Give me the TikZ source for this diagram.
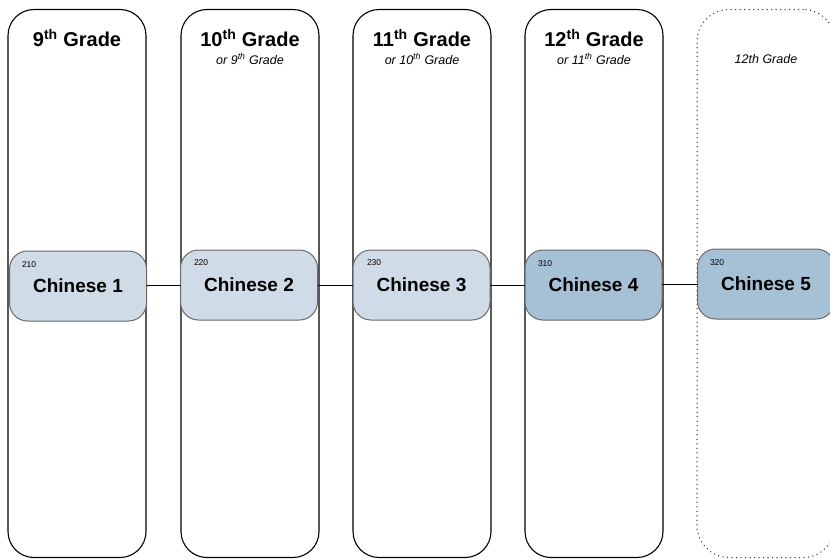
\documentclass[tikz,border=0pt]{standalone}
\usepackage{fontspec}
\setmainfont{Liberation Sans}
\usepackage{tikz}

\definecolor{lightcourse}{HTML}{CFDCE7}
\definecolor{darkcourse}{HTML}{A6C1D5}
\definecolor{courseline}{HTML}{6A6A6A}

\begin{document}
\begin{tikzpicture}[x=1pt, y=-1pt,
  every node/.style={outer sep=0pt, inner sep=0pt},
  gradecol/.style={draw=black, line width=1.1pt, rounded corners=26pt, minimum width=138pt, minimum height=548pt},
  optcol/.style={gradecol, draw=black!75, line width=1.5pt, line cap=round, dash pattern=on 0pt off 4.5pt, rounded corners=32pt},
  gradetitle/.style={font=\fontsize{20}{23}\selectfont\bfseries},
  gradenote/.style={font=\fontsize{12.5}{14}\selectfont\itshape},
  course/.style={draw=courseline, line width=1pt, rounded corners=18pt, minimum width=137pt, minimum height=70pt, font=\fontsize{19}{22}\selectfont\bfseries},
  coursenum/.style={font=\fontsize{8.5}{10}\selectfont, anchor=west}]
\useasboundingbox (0,0) rectangle (830,558);
\clip (0,0) rectangle (830,558);

\node[gradecol] (col1) at (77,283.5) {};
\node[gradecol] (col2) at (250,283.5) {};
\node[gradecol] (col3) at (422,283.5) {};
\node[gradecol] (col4) at (594,283.5) {};
\node[optcol] (col5) at (766,283.5) {};

\node[gradetitle] (title1) at (77,38) {9\textsuperscript{th} Grade};
\node[gradetitle] (title2) at (250,38) {10\textsuperscript{th} Grade};
\node[gradetitle] (title3) at (422,38) {11\textsuperscript{th} Grade};
\node[gradetitle] (title4) at (594,38) {12\textsuperscript{th} Grade};

\node[gradenote] (note2) at (250,59) {or 9\textsuperscript{th} Grade};
\node[gradenote] (note3) at (422,59) {or 10\textsuperscript{th} Grade};
\node[gradenote] (note4) at (594,59) {or 11\textsuperscript{th} Grade};
\node[gradenote] (note5) at (766,59) {12th Grade};

\node[course, fill=lightcourse] (chinese1) at (78,286) {Chinese 1};
\node[course, fill=lightcourse] (chinese2) at (249,285) {Chinese 2};
\node[course, fill=lightcourse] (chinese3) at (421.5,285) {Chinese 3};
\node[course, fill=darkcourse] (chinese4) at (593.5,285) {Chinese 4};
\node[course, fill=darkcourse] (chinese5) at (766,284) {Chinese 5};

\node[coursenum] (num1) at (22,265) {210};
\node[coursenum] (num2) at (194,263) {220};
\node[coursenum] (num3) at (367,263) {230};
\node[coursenum] (num4) at (538,264) {310};
\node[coursenum] (num5) at (710,263) {320};

\draw[line width=0.8pt] (chinese1) -- (chinese2);
\draw[line width=0.8pt] (chinese2) -- (chinese3);
\draw[line width=0.8pt] (chinese3) -- (chinese4);
\draw[line width=0.8pt] (chinese4) -- (chinese5);
\end{tikzpicture}
\end{document}
